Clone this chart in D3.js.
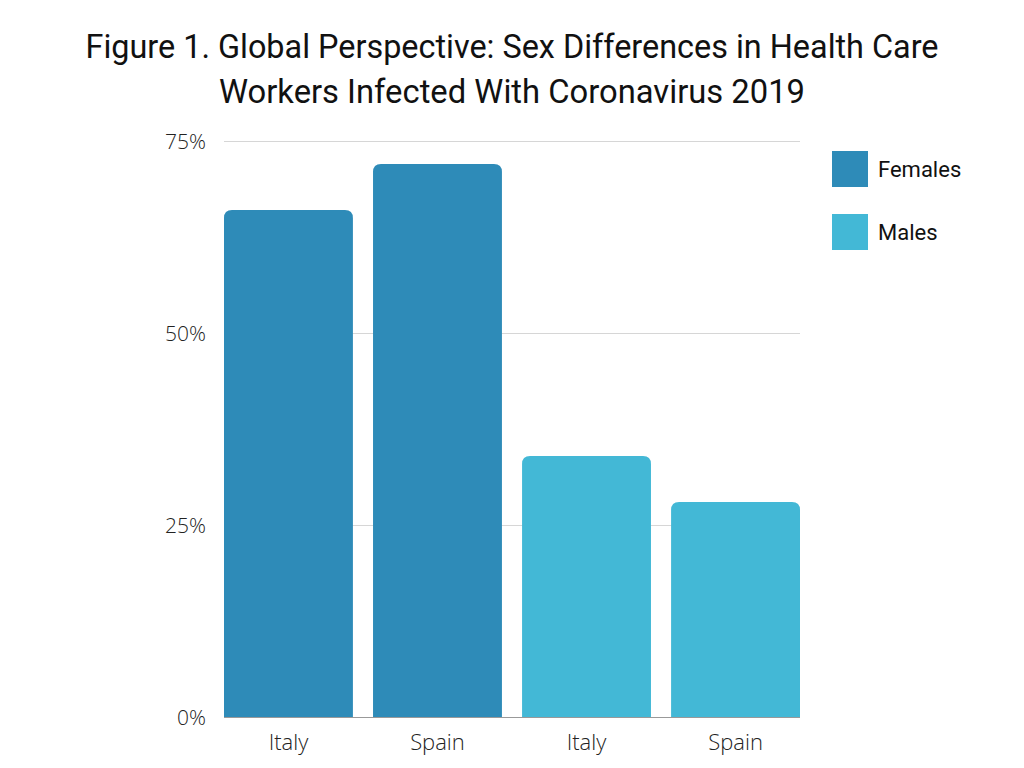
<!DOCTYPE html>
<html>
<head>
<meta charset="utf-8">
<script src="https://cdn.jsdelivr.net/npm/d3@7"></script>
<style>
  body { margin: 0; background: #fff; }
  svg { display: block; }
</style>
</head>
<body>
<svg width="1024" height="768"></svg>
<script>
const countries = ["Italy", "Spain", "Italy", "Spain"];
const groups = ["Females", "Females", "Males", "Males"];
const values = [66, 72, 34, 28];
const seriesNames = ["Females", "Males"];
const seriesColors = ["#2e8bb8", "#43b8d6"];
const yTicks = [0, 25, 50, 75];
const titleLines = [
  "Figure 1. Global Perspective: Sex Differences in Health Care",
  "Workers Infected With Coronavirus 2019"
];

const svg = d3.select("svg");
const margin = { top: 141, right: 224, bottom: 51, left: 224 };
const width = +svg.attr("width");
const height = +svg.attr("height");

const data = values.map((v, i) => ({ id: i, country: countries[i], group: groups[i], value: v }));

const x = d3.scaleBand()
  .domain(data.map(d => d.id))
  .range([margin.left, width - margin.right])
  .paddingInner(0.135)
  .paddingOuter(0);

const y = d3.scaleLinear()
  .domain([0, 75])
  .range([height - margin.bottom, margin.top]);

const color = d3.scaleOrdinal().domain(seriesNames).range(seriesColors);

// titel
svg.append("g").selectAll("text")
  .data(titleLines)
  .enter()
  .append("text")
  .attr("x", 512)
  .attr("y", (d, i) => 58 + i * 45)
  .attr("text-anchor", "middle")
  .attr("textLength", (d, i) => i === 0 ? 853 : 586)
  .attr("lengthAdjust", "spacingAndGlyphs")
  .style("font-family", "Roboto, sans-serif")
  .style("font-size", "33px")
  .style("fill", "#111")
  .text(d => d);

// grid
svg.append("g")
  .selectAll("line")
  .data(yTicks)
  .enter()
  .append("line")
  .attr("x1", margin.left)
  .attr("x2", width - margin.right)
  .attr("y1", d => y(d) + 0.5)
  .attr("y2", d => y(d) + 0.5)
  .style("stroke", d => d === 0 ? "#999" : "#d6d6d6")
  .style("stroke-width", 1);

// y axis
const yAxis = d3.axisLeft(y).tickValues(yTicks).tickFormat(d => d + "%").tickSize(0).tickPadding(0);
svg.append("g")
  .attr("class", "y-axis")
  .attr("transform", `translate(${margin.left - 18},0)`)
  .call(yAxis)
  .call(g => g.select(".domain").remove());

svg.selectAll(".y-axis text")
  .style("font-family", "'Open Sans', sans-serif")
  .style("font-weight", "300")
  .style("font-size", "21px")
  .style("fill", "#222")
  .attr("dy", "0.35em");

// bars med rundade hörn upptill
const r = 8;
svg.append("g")
  .selectAll("path")
  .data(data)
  .enter()
  .append("path")
  .attr("fill", d => color(d.group))
  .attr("d", d => {
    const x0 = x(d.id), x1 = x0 + x.bandwidth();
    const y0 = y(0), y1 = y(d.value);
    return `M${x0},${y0}V${y1 + r}Q${x0},${y1} ${x0 + r},${y1}H${x1 - r}Q${x1},${y1} ${x1},${y1 + r}V${y0}Z`;
  });

// x axis
const xAxis = d3.axisBottom(x).tickFormat(i => countries[i]).tickSize(0).tickPadding(0);
svg.append("g")
  .attr("class", "x-axis")
  .attr("transform", `translate(0,${height - margin.bottom})`)
  .call(xAxis)
  .call(g => g.select(".domain").remove());

svg.selectAll(".x-axis text")
  .attr("dy", null)
  .attr("y", 33)
  .style("font-family", "'Open Sans', sans-serif")
  .style("font-weight", "300")
  .style("font-size", "22px")
  .style("fill", "#222");

// legend
const legend = svg.append("g")
  .selectAll("g")
  .data(seriesNames)
  .enter()
  .append("g")
  .attr("transform", (d, i) => `translate(832,${151 + i * 63})`);

legend.append("rect")
  .attr("width", 36)
  .attr("height", 36)
  .attr("fill", d => color(d));

legend.append("text")
  .attr("x", 46)
  .attr("y", 26)
  .style("font-family", "Roboto, sans-serif")
  .style("font-size", "22px")
  .style("fill", "#111")
  .text(d => d);
</script>
</body>
</html>
